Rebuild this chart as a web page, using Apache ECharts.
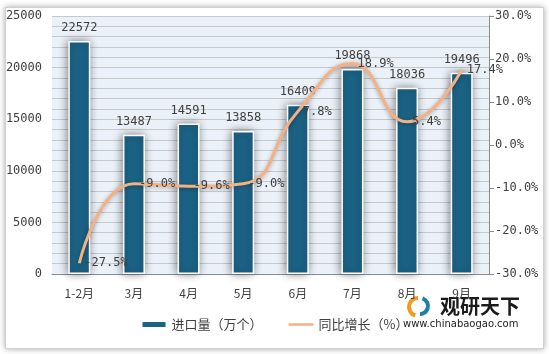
<!DOCTYPE html>
<html>
<head>
<meta charset="utf-8">
<script src="https://cdn.jsdelivr.net/npm/echarts@6/dist/echarts.min.js"></script>
<style>
  html, body { margin: 0; padding: 0; background: #fff; }
  #frame {
    position: absolute; left: 5px; top: 7px; width: 537px; height: 340px;
    border: 1px solid #d0d0d0; box-shadow: 0 0 6px rgba(0,0,0,0.35); background: #fff;
  }
  #chart { position: absolute; left: 0; top: 0; width: 549px; height: 354px; }
</style>
</head>
<body>
<div id="frame"></div>
<div id="chart"></div>
<script>
// 月份
const months = ['1-2月', '3月', '4月', '5月', '6月', '7月', '8月', '9月'];
// 进口量（万个）
const importVolume = [22572, 13487, 14591, 13858, 16409, 19868, 18036, 19496];
// 同比增长（%）
const yoyGrowth = [-27.5, -9.0, -9.6, -9.0, 7.8, 18.9, 5.4, 17.4];

const monoFont = '"DejaVu Sans Mono", "Noto Sans CJK SC", monospace';
const cjkFont = '"Noto Sans CJK SC", sans-serif';

const chart = echarts.init(document.getElementById('chart'), null, { renderer: 'canvas' });

const option = {
  animation: false,
  backgroundColor: 'transparent',
  grid: {
    left: 52, right: 60, top: 16, bottom: 80,
    show: true, backgroundColor: '#EBF1F8', borderWidth: 0
  },
  legend: {
    bottom: 18,
    left: 'center',
    itemWidth: 25,
    itemHeight: 7,
    itemGap: 26,
    textStyle: { fontFamily: cjkFont, fontSize: 13, color: '#404040' },
    data: [
      { name: '进口量（万个）', icon: 'rect' },
      { name: '同比增长（%）', icon: 'path://M0,0 L25,0 L25,2.5 L0,2.5 Z' }
    ]
  },
  xAxis: {
    type: 'category',
    data: months,
    axisLine: { lineStyle: { color: '#8c8c8c', width: 1 } },
    axisTick: { show: false },
    axisLabel: { margin: 13, fontFamily: cjkFont, fontSize: 12, color: '#404040' }
  },
  yAxis: [
    {
      type: 'value',
      min: 0, max: 25000, interval: 5000,
      axisLine: { show: false },
      axisTick: { show: false },
      axisLabel: {
        margin: 10, fontFamily: monoFont, fontSize: 12, color: '#404040',
        formatter: v => String(v)
      },
      splitLine: { lineStyle: { color: '#c8c8c8', width: 1 } },
      minorTick: { show: false, splitNumber: 5 },
      minorSplitLine: { show: true, lineStyle: { color: '#c8c8c8', width: 1 } }
    },
    {
      type: 'value',
      min: -30, max: 30, interval: 10,
      position: 'right',
      axisLine: { show: true, lineStyle: { color: '#8c8c8c' } },
      axisTick: { show: true, length: 5, lineStyle: { color: '#8c8c8c' } },
      axisLabel: {
        margin: 6, fontFamily: monoFont, fontSize: 12, color: '#404040',
        formatter: v => v.toFixed(1) + '%'
      },
      splitLine: { show: false }
    }
  ],
  series: [
    {
      name: '进口量（万个）',
      type: 'bar',
      data: importVolume,
      barWidth: 22,
      itemStyle: {
        color: '#1B6386',
        borderColor: '#ffffff',
        borderWidth: 1.5,
        shadowColor: 'rgba(0,0,0,0.45)',
        shadowBlur: 8,
        shadowOffsetX: -1
      },
      label: {
        show: true, position: 'top', distance: 7,
        fontFamily: monoFont, fontSize: 12, color: '#404040'
      },
      z: 2
    },
    {
      name: '同比增长（%）',
      type: 'line',
      yAxisIndex: 1,
      data: yoyGrowth,
      smooth: 0.5,
      symbol: 'circle',
      symbolSize: 0.1,
      showSymbol: true,
      lineStyle: {
        color: '#F4B183', width: 3,
        shadowColor: 'rgba(0,0,0,0.3)', shadowBlur: 4, shadowOffsetY: 1
      },
      itemStyle: { color: '#F4B183' },
      label: {
        show: true, position: 'right', distance: 5,
        fontFamily: monoFont, fontSize: 12, color: '#404040',
        formatter: p => p.value.toFixed(1) + '%'
      },
      labelLayout: { hideOverlap: false },
      z: 3
    }
  ],
  graphic: [
    {
      type: 'arc', shape: { cx: 418, cy: 307, r: 9, startAngle: Math.PI * 0.6, endAngle: Math.PI * 1.5 },
      style: { stroke: '#F39A1E', lineWidth: 4, fill: null }
    },
    {
      type: 'arc', shape: { cx: 420, cy: 306, r: 8, startAngle: -Math.PI * 0.4, endAngle: Math.PI * 0.5 },
      style: { stroke: '#1F7FA6', lineWidth: 4, fill: null }
    },
    {
      type: 'text', left: 440, top: 296,
      style: { text: '观研天下', font: 'bold 20px "Noto Sans CJK SC"', fill: '#1a1a1a' }
    },
    {
      type: 'text', left: 403, top: 319,
      style: { text: 'www.chinabaogao.com', font: '10px "DejaVu Sans"', fill: '#222' }
    }
  ]
};

chart.setOption(option);
</script>
</body>
</html>
